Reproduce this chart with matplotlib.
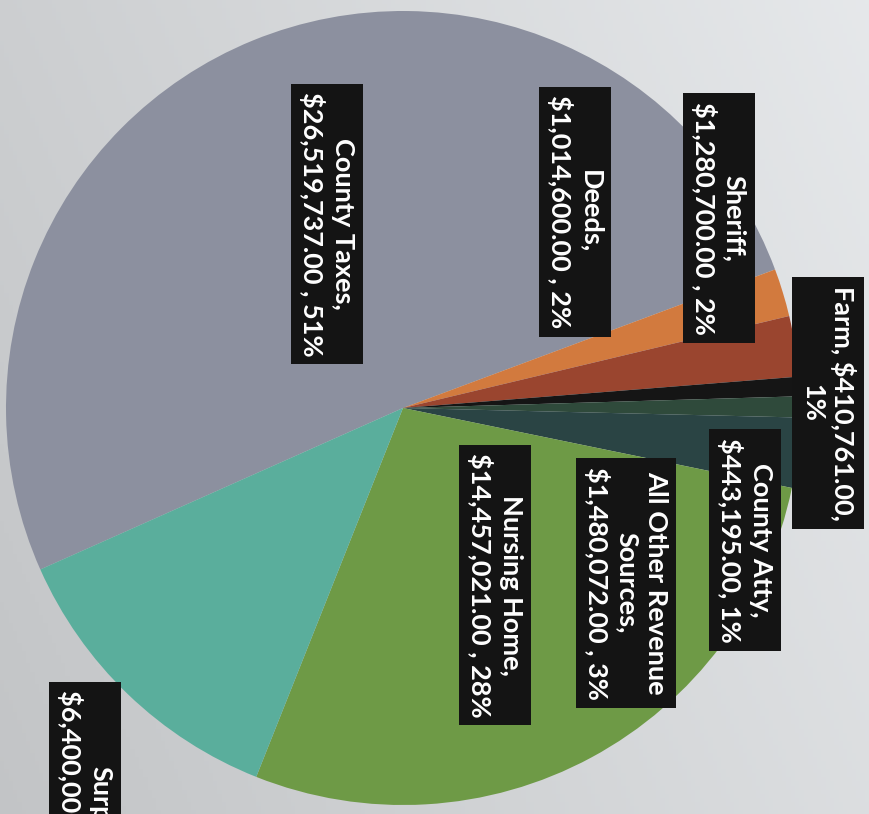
import matplotlib.pyplot as plt
import numpy as np

# revenue sources, in clockwise order starting with County Taxes
sources = ["County Taxes", "Deeds", "Sheriff", "Farm", "County Atty",
           "All Other Revenue Sources", "Nursing Home", "Surplus"]
amounts = [26519737.00, 1014600.00, 1280700.00, 410761.00, 443195.00,
           1480072.00, 14457021.00, 6400000.00]
percents = [51, 2, 2, 1, 1, 3, 28, 12]
colors = ["#8c909f", "#d27a3e", "#9a452f", "#151515", "#2f4a3b",
          "#2a4444", "#6e9a46", "#5aae9c"]

label_texts = [
    "County Taxes,\n$26,519,737.00 , 51%",
    "Deeds,\n$1,014,600.00 , 2%",
    "Sheriff,\n$1,280,700.00 , 2%",
    "Farm, $410,761.00,\n1%",
    "County Atty,\n$443,195.00, 1%",
    "All Other Revenue\nSources,\n$1,480,072.00 , 3%",
    "Nursing Home,\n$14,457,021.00 , 28%",
    "Surplus,\n$6,400,000.00 , 12%",
]
# label anchor positions in pixels (x from left, y from top)
label_px = [(327, 224), (575, 212), (719, 218), (828, 403),
            (745, 540), (626, 583), (495, 585), (85, 690)]

W, H = 869, 814
cx, cy, R = 403, 408, 397

fig = plt.figure(figsize=(W / 100, H / 100), dpi=100)
ax = fig.add_axes([0, 0, 1, 1])

# light paper background with a soft gradient
gx = np.linspace(0, 1, 200)
gy = np.linspace(0, 1, 200)
GX, GY = np.meshgrid(gx, gy)
shade = 0.77 + 0.10 * GX + 0.04 * (1 - GY)
bg = np.dstack([shade * 0.99, shade * 1.0, shade * 1.01])
bg = np.clip(bg, 0, 1)
ax.imshow(bg, extent=[-cx / R, (W - cx) / R, -(H - cy) / R, cy / R],
          aspect="auto", zorder=0)

ax.pie(amounts, colors=colors, startangle=204, counterclock=False,
       radius=1.0, center=(0, 0), frame=True,
       wedgeprops=dict(linewidth=0, zorder=1))

ax.set_xlim(-cx / R, (W - cx) / R)
ax.set_ylim(-(H - cy) / R, cy / R)
ax.set_aspect("equal")
ax.axis("off")

for i, txt in enumerate(label_texts):
    px, py = label_px[i]
    x = (px - cx) / R
    y = (cy - py) / R
    va = "top" if sources[i] == "Surplus" else "center"
    ax.text(x, y, txt, rotation=-90, ha="center", va=va, multialignment="center",
            color="white", fontsize=19.5, fontweight="bold", family="Lato",
            linespacing=1.25, zorder=5,
            bbox=dict(boxstyle="square,pad=0.3", fc="#141414", ec="none"))

fig.savefig("out.png", dpi=100)
